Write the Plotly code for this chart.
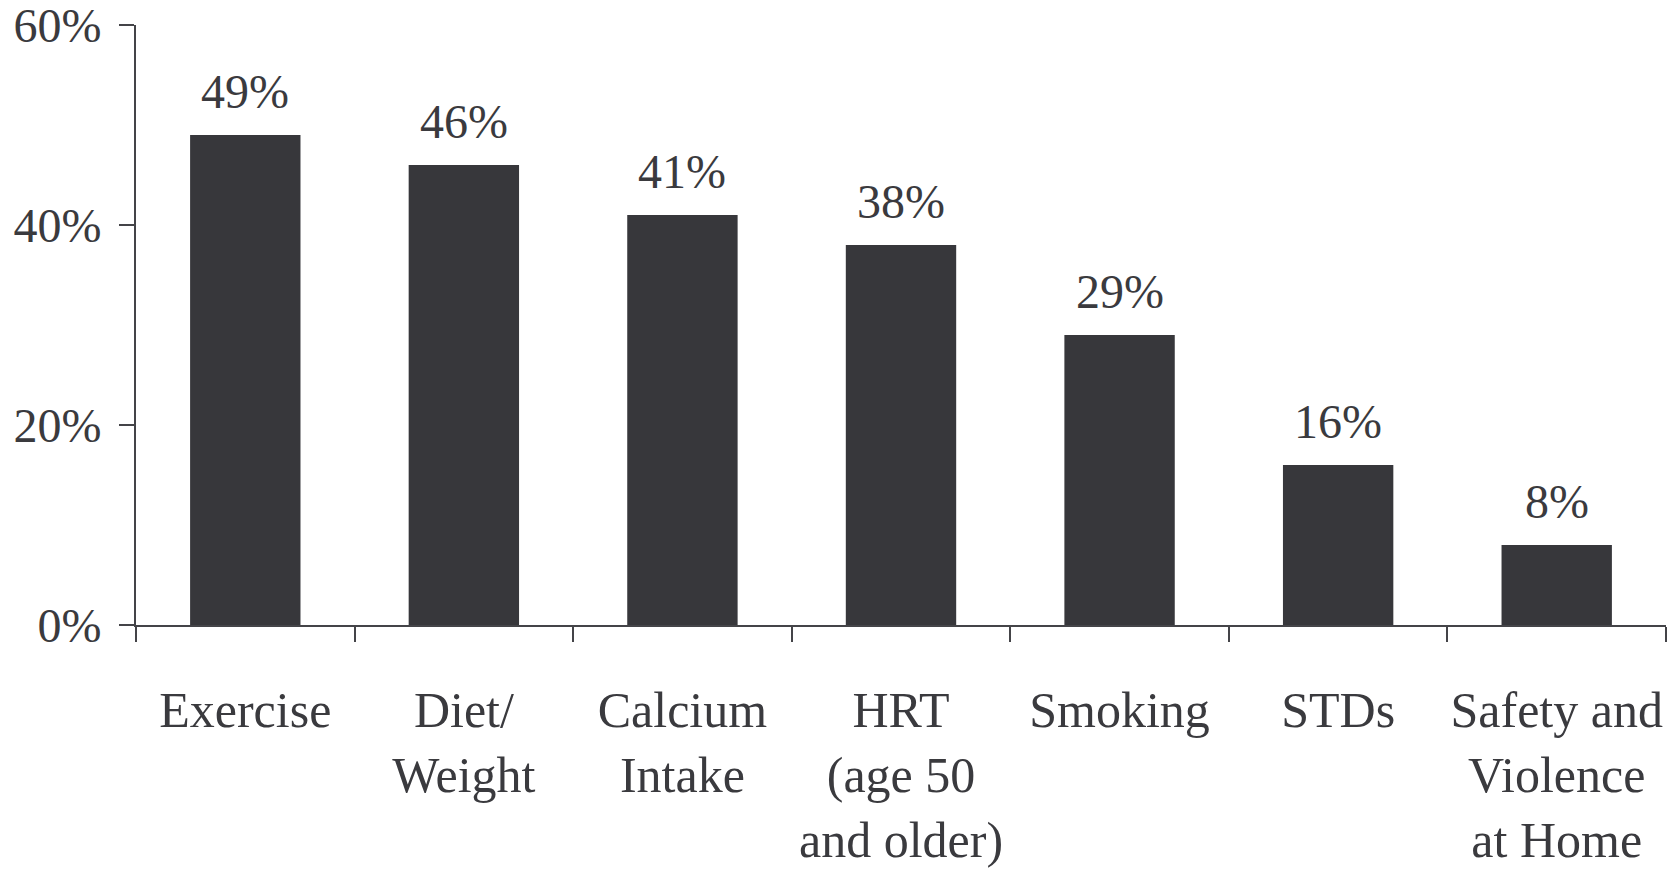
import plotly.graph_objects as go

categories = ["Exercise", "Diet/<br>Weight", "Calcium<br>Intake", "HRT<br>(age 50<br>and older)",
              "Smoking", "STDs", "Safety and<br>Violence<br>at Home"]
values = [49, 46, 41, 38, 29, 16, 8]
y_ticks = [0, 20, 40, 60]
y_tick_labels = ["0%", "20%", "40%", "60%"]

FONT = "'Liberation Serif', 'Times New Roman', 'DejaVu Serif', serif"
TXT = "#3a3a3e"
BAR = "#37373b"
FS = 48

fig = go.Figure()
fig.add_trace(go.Bar(x=categories, y=values, marker=dict(color=BAR, line=dict(width=0)),
                     width=0.505, hoverinfo="skip"))

for c, v in zip(categories, values):
    fig.add_annotation(x=c, y=v, text=f"{v}%", showarrow=False, yanchor="bottom",
                       yshift=15, font=dict(family=FONT, size=FS, color=TXT))

fig.update_layout(
    width=1680, height=869,
    margin=dict(l=136, r=14, t=25, b=244),
    plot_bgcolor="white", paper_bgcolor="white",
    showlegend=False,
    font=dict(family=FONT, size=FS, color=TXT),
)
fig.update_xaxes(
    showline=True, linecolor="#444448", linewidth=2,
    ticks="outside", ticklen=15, tickwidth=2, tickcolor="#444448",
    tickson="boundaries", showgrid=False, zeroline=False, tickangle=0,
    ticklabelstandoff=40, automargin=False, ticklabeloverflow="allow",
    tickfont=dict(family=FONT, size=50, color=TXT),
)
fig.update_yaxes(
    range=[0, 60], tickvals=y_ticks, ticktext=y_tick_labels,
    showline=True, linecolor="#444448", linewidth=2,
    ticks="outside", ticklen=15, tickwidth=2, tickcolor="#444448",
    showgrid=False, zeroline=False, ticklabelstandoff=8, automargin=False,
    ticklabeloverflow="allow",
    tickfont=dict(family=FONT, size=FS, color=TXT),
)

fig.write_html("out.html", config={"displayModeBar": False},
               post_script="document.body.style.margin='0';document.body.style.overflow='hidden';")
